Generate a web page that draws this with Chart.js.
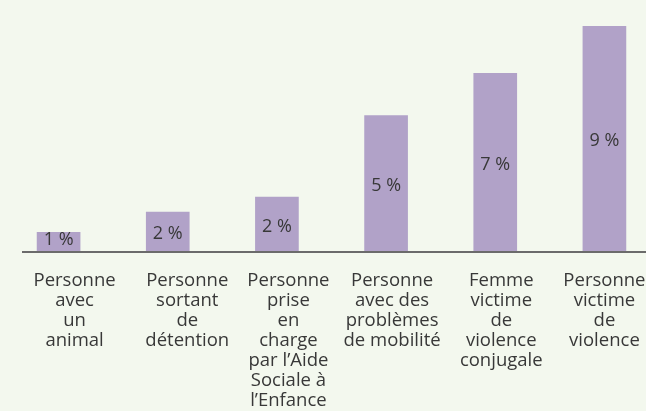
<!DOCTYPE html>
<html>
<head>
<meta charset="utf-8">
<script src="https://cdn.jsdelivr.net/npm/chart.js@4/dist/chart.umd.min.js"></script>
<style>
  html, body { margin: 0; padding: 0; background: #f3f8ee; overflow: hidden; }
  #wrap { position: relative; width: 660px; height: 411px; }
</style>
</head>
<body>
<div id="wrap"><canvas id="chart"></canvas></div>
<script>
  // categories (one line per entry)
  const categories = [
    ['Personne', 'avec', 'un', 'animal'],
    ['Personne', 'sortant', 'de', 'détention'],
    ['Personne', 'prise', 'en', 'charge', 'par l’Aide', 'Sociale à', 'l’Enfance'],
    ['Personne', 'avec des', 'problèmes', 'de mobilité'],
    ['Femme', 'victime', 'de', 'violence', 'conjugale'],
    ['Personne', 'victime', 'de', 'violence']
  ];
  // bar heights (%)
  const values = [0.8, 1.6, 2.2, 5.45, 7.13, 9.0];
  // printed labels
  const valueLabels = ['1 %', '2 %', '2 %', '5 %', '7 %', '9 %'];

  const BAR = '#b1a2c8';
  const INK = '#383838';
  const FONT = '"Open Sans", sans-serif';
  // the category texts sit a little right of their bars in the original
  const LABEL_NUDGE = [16, 19.5, 11.5, 6, 6, 0];

  // baseline drawn from x=22 to the right edge
  const baseLine = {
    id: 'baseLine',
    afterDatasetsDraw(chart) {
      const y = chart.scales.y.getPixelForValue(0);
      const ctx = chart.ctx;
      ctx.save();
      ctx.strokeStyle = '#6b6b6b';
      ctx.lineWidth = 2;
      ctx.beginPath();
      ctx.moveTo(22, y);
      ctx.lineTo(chart.width, y);
      ctx.stroke();
      ctx.restore();
    }
  };

  // value label in the middle of each bar, category text under the line
  const texts = {
    id: 'texts',
    afterDatasetsDraw(chart) {
      const ctx = chart.ctx;
      const meta = chart.getDatasetMeta(0);
      const xs = chart.scales.x;
      ctx.save();
      ctx.fillStyle = INK;
      ctx.textAlign = 'center';

      ctx.font = '18px ' + FONT;
      ctx.textBaseline = 'middle';
      meta.data.forEach((bar, i) => {
        const mid = Math.min((bar.y + bar.base) / 2 + 2, bar.base - 12);
        ctx.fillText(valueLabels[i], bar.x, mid);
      });

      ctx.font = '18.5px ' + FONT;
      ctx.textBaseline = 'alphabetic';
      const top = xs.top + 34;
      categories.forEach((lines, i) => {
        const x = xs.getPixelForValue(i) + LABEL_NUDGE[i];
        lines.forEach((t, j) => ctx.fillText(t, x, top + j * 20));
      });
      ctx.restore();
    }
  };

  new Chart(document.getElementById('chart'), {
    type: 'bar',
    data: {
      labels: categories.map(c => c.join(' ')),
      datasets: [{
        data: values,
        backgroundColor: BAR,
        borderWidth: 0,
        barPercentage: 0.4,
        categoryPercentage: 1
      }]
    },
    options: {
      responsive: true,
      maintainAspectRatio: false,
      animation: false,
      layout: { padding: { left: 4, right: 1, top: 1, bottom: 0 } },
      plugins: { legend: { display: false }, tooltip: { enabled: false } },
      scales: {
        x: {
          grid: { display: false, drawTicks: false },
          border: { display: false },
          ticks: { display: false },
          afterFit(scale) { scale.height = 159; }
        },
        y: {
          display: false,
          min: 0,
          max: 10
        }
      }
    },
    plugins: [baseLine, texts]
  });
</script>
</body>
</html>
